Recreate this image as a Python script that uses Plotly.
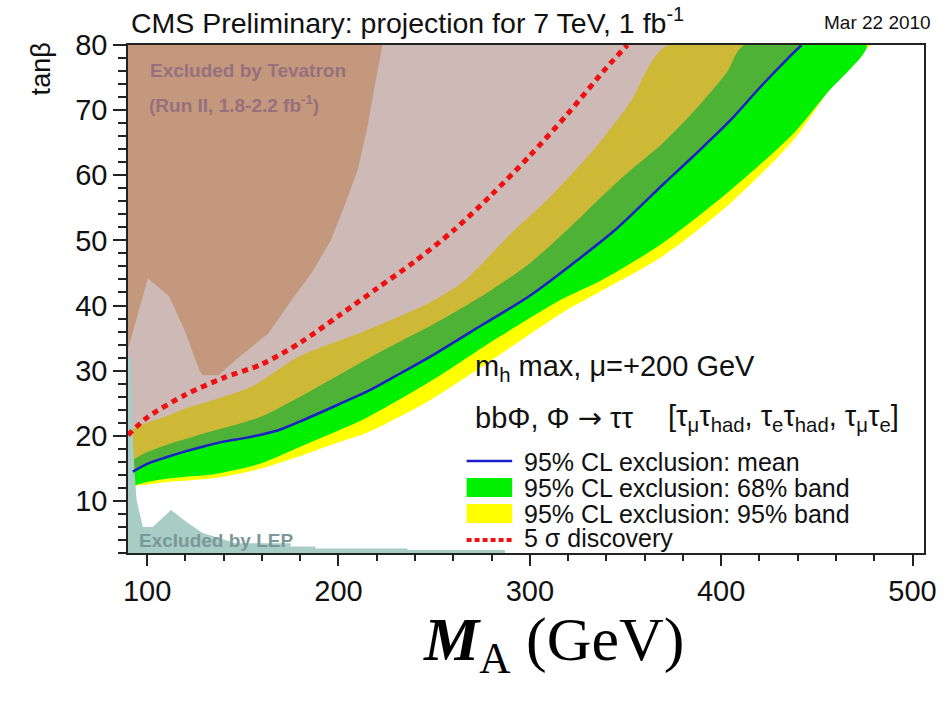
import plotly.graph_objects as go

# ---------------- data ----------------
mean_x = [92.5, 100, 110, 120, 130, 140, 150, 160, 170, 180, 200, 215, 230, 250, 275, 300, 325, 345, 370, 385, 405, 420, 435, 442]
mean_y = [14.5, 15.7, 16.7, 17.6, 18.4, 19.1, 19.6, 20.2, 21.0, 22.2, 24.8, 26.8, 29.2, 32.5, 37.0, 41.5, 47.0, 51.7, 58.7, 62.8, 68.5, 73.4, 78.0, 80.0]

green_up_x = [92.5, 100, 110, 120, 130, 140, 150, 160, 180, 200, 220, 250, 280, 300, 322, 335, 352, 369, 386, 403, 412]
green_up_y = [16.3, 17.5, 18.6, 19.5, 20.4, 21.2, 22.0, 23.0, 26.0, 29.3, 32.6, 37.2, 42.4, 46.5, 52.3, 56.0, 60.6, 64.8, 69.9, 75.8, 80.0]

green_lo_x = [92.5, 100, 110, 120, 135, 150, 160, 180, 200, 215, 250, 283, 317, 337, 369, 404, 438, 455, 476]
green_lo_y = [12.3, 12.9, 13.4, 13.7, 14.1, 15.0, 15.8, 18.3, 20.8, 22.8, 28.7, 35.0, 41.0, 43.8, 49.5, 57.5, 66.5, 72.5, 80.0]

yellow_up_x = [92.5, 100, 110, 120, 138, 155, 179, 213, 248, 265, 290, 310, 335, 352, 372]
yellow_up_y = [21.0, 22.0, 23.0, 24.2, 25.8, 27.6, 32.1, 36.0, 40.5, 43.6, 51.0, 56.5, 64.5, 71.0, 80.0]

yellow_lo_x = [92.5, 100, 110, 120, 135, 150, 160, 180, 200, 215, 248, 283, 317, 337, 369, 404, 438, 455, 470, 478]
yellow_lo_y = [12.3, 12.5, 12.9, 13.1, 13.5, 14.3, 15.0, 16.9, 19.0, 20.5, 25.5, 32.2, 38.9, 42.2, 47.5, 55.5, 65.5, 72.5, 78.5, 80.0]

disc_x = [90, 100, 120, 140, 160, 180, 200, 220, 240, 260, 280, 300, 320, 340, 351]
disc_y = [20.1, 22.8, 26.3, 28.9, 31.0, 34.3, 38.4, 42.6, 46.8, 51.5, 57.0, 63.0, 69.5, 76.5, 80.0]

tev_x = [90, 90, 100.4, 111.6, 120.3, 127.2, 129, 137.3, 146, 163.3, 175.4, 185.8, 196.1, 203, 210, 215.2, 219.5, 223, 90]
tev_y = [80, 33.3, 44.2, 41.4, 35.7, 30.1, 29.3, 29.3, 31.6, 35.7, 40.8, 44.9, 50.1, 55.2, 60.8, 67.5, 74.6, 80, 80]

lep_x = [90, 90, 91.5, 92.5, 93.5, 94.5, 97.8, 102.9, 112.5, 120.4, 128.8, 146, 175, 175, 188, 188, 236, 236, 287, 287]
lep_y = [2, 32, 32, 20, 14, 10.1, 6.0, 6.0, 8.6, 6.8, 5.1, 3.5, 3.5, 3.0, 3.0, 2.7, 2.7, 2.45, 2.45, 2]

x_range = [90, 506]
y_range = [2, 80]
x_ticks = [100, 200, 300, 400, 500]
y_ticks = [10, 20, 30, 40, 50, 60, 70, 80]

# ---------------- colours ----------------
YELLOW = "#ffff00"
GREEN = "#00f000"
HATCH = "rgba(156,115,108,0.5)"
BROWN = "#c4987c"
LEP = "#a7cdc4"
BLUE = "#1c1cc8"
RED = "#ee1111"
FONT = "Liberation Sans, Arial, sans-serif"

# pixel helpers for text/legend placement (plot area 128..932 x 45..553)
L, R, T, B = 128, 932, 45, 553
def PX(px):
    return (px - L) / (R - L)
def PY(py):
    return (B - py) / (B - T)

fig = go.Figure()

def band(xu, yu, xl, yl, color):
    return go.Scatter(x=list(xu) + list(xl)[::-1], y=list(yu) + list(yl)[::-1],
                      fill="toself", fillcolor=color, mode="lines",
                      line=dict(width=0, shape="spline", smoothing=0.8),
                      hoverinfo="skip", showlegend=False)

fig.add_trace(band(yellow_up_x, yellow_up_y, yellow_lo_x, yellow_lo_y, YELLOW))
fig.add_trace(band(green_up_x, green_up_y, green_lo_x, green_lo_y, GREEN))
# hatched (expected reach) region above the mean line
hx = [90] + mean_x + [90]
hy = [14.5] + mean_y + [80]
fig.add_trace(go.Scatter(x=hx, y=hy, fill="toself", fillcolor=HATCH, mode="lines",
                         line=dict(width=0, shape="spline", smoothing=0.8),
                         hoverinfo="skip", showlegend=False))
fig.add_trace(go.Scatter(x=tev_x, y=tev_y, fill="toself", fillcolor=BROWN, mode="lines",
                         line=dict(width=0), hoverinfo="skip", showlegend=False))
fig.add_trace(go.Scatter(x=lep_x, y=lep_y, fill="toself", fillcolor=LEP, mode="lines",
                         line=dict(width=0), hoverinfo="skip", showlegend=False))
fig.add_trace(go.Scatter(x=mean_x, y=mean_y, mode="lines",
                         line=dict(color=BLUE, width=2.5, shape="spline", smoothing=0.8),
                         hoverinfo="skip", showlegend=False))
fig.add_trace(go.Scatter(x=disc_x, y=disc_y, mode="lines",
                         line=dict(color=RED, width=5, dash="6px,5px", shape="spline", smoothing=0.8),
                         hoverinfo="skip", showlegend=False))

axis_common = dict(showline=True, linecolor="#222", linewidth=1.5, mirror=True,
                   ticks="outside", tickwidth=1.5, tickcolor="#222",
                   showgrid=False, zeroline=False,
                   tickfont=dict(family=FONT, size=29, color="#111"))
fig.update_xaxes(range=x_range, tickvals=x_ticks, ticklen=11,
                 minor=dict(dtick=20, ticklen=6, tickcolor="#222", tickwidth=1.5, ticks="outside"),
                 **axis_common)
fig.update_yaxes(range=y_range, tickvals=y_ticks, ticklen=13,
                 minor=dict(dtick=2, tick0=0, ticklen=8, tickcolor="#222", tickwidth=1.5, ticks="outside"),
                 **axis_common)

ann = []
def text(px, py, s, size, xanchor="left", color="#111", family=FONT, yanchor="middle"):
    ann.append(dict(xref="paper", yref="paper", x=PX(px), y=PY(py), text=s, showarrow=False,
                    xanchor=xanchor, yanchor=yanchor, font=dict(family=family, size=size, color=color)))

text(129, 21, "CMS Preliminary: projection for 7 TeV, 1 fb<sup>-1</sup>", 28.5)
text(941, 22, "Mar 22 2010", 19, xanchor="right")
ann.append(dict(xref="paper", yref="paper", x=PX(40), y=PY(40), text="tanβ", showarrow=False,
                textangle=-90, xanchor="center", yanchor="top",
                font=dict(family=FONT, size=27, color="#111")))
text(148, 70, "<b>Excluded by Tevatron</b>", 19, color="#97707e")
text(147, 104, "<b>(Run II, 1.8-2.2 fb<sup>-1</sup>)</b>", 19, color="#97707e")
text(137, 540, "<b>Excluded by LEP</b>", 19, color="#7b9896")
text(476, 368, "m<sub>h</sub> max, μ=+200 GeV", 29)
text(476, 418, "bbΦ, Φ <span style=\"font-family:'DejaVu Sans'\">→</span> ττ", 29)
text(671, 418, "[τ<sub>μ</sub>τ<sub>had</sub>, τ<sub>e</sub>τ<sub>had</sub>, τ<sub>μ</sub>τ<sub>e</sub>]", 29)
text(526, 462, "95% CL exclusion: mean", 25)
text(526, 488, "95% CL exclusion: 68% band", 25)
text(526, 514, "95% CL exclusion: 95% band", 25)
text(526, 538, "5 σ discovery", 25)
ann.append(dict(xref="paper", yref="paper", x=PX(558), y=PY(643),
                text="<b><i>M</i></b><sub>A</sub> (GeV)", showarrow=False,
                xanchor="center", yanchor="middle",
                font=dict(family="Liberation Serif, Times New Roman, serif", size=62, color="#000")))

shapes = [
    dict(type="line", xref="paper", yref="paper", x0=PX(470), x1=PX(516), y0=PY(461), y1=PY(461),
         line=dict(color=BLUE, width=2.5)),
    dict(type="rect", xref="paper", yref="paper", x0=PX(470), x1=PX(516), y0=PY(497), y1=PY(478),
         fillcolor=GREEN, line=dict(width=0)),
    dict(type="rect", xref="paper", yref="paper", x0=PX(470), x1=PX(516), y0=PY(523), y1=PY(504),
         fillcolor=YELLOW, line=dict(width=0)),
    dict(type="line", xref="paper", yref="paper", x0=PX(470), x1=PX(516), y0=PY(540), y1=PY(540),
         line=dict(color=RED, width=4, dash="5px,3px")),
]

fig.update_layout(width=949, height=717, margin=dict(l=L, r=949 - R, t=T, b=717 - B),
                  paper_bgcolor="white", plot_bgcolor="white", showlegend=False,
                  annotations=ann, shapes=shapes)

fig.write_html("out.html")
